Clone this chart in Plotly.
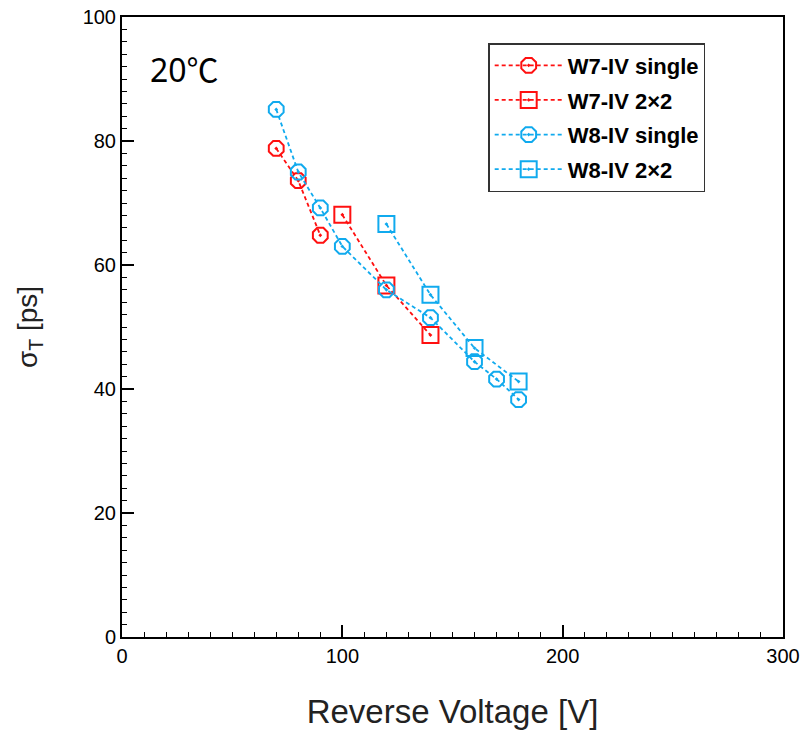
import plotly.graph_objects as go

# Data
w7_single_x = [70, 80, 90]
w7_single_y = [78.8, 73.6, 64.8]
w7_2x2_x = [100, 120, 140]
w7_2x2_y = [68.1, 56.7, 48.7]
w8_single_x = [70, 80, 90, 100, 120, 140, 160, 170, 180]
w8_single_y = [85.1, 75.0, 69.2, 63.0, 56.0, 51.5, 44.4, 41.6, 38.3]
w8_2x2_x = [120, 140, 160, 180]
w8_2x2_y = [66.6, 55.2, 46.6, 41.2]

RED = "#FF1010"
BLUE = "#10AAEE"

series = [
    ("W7-IV single", w7_single_x, w7_single_y, RED, "octagon-open-dot"),
    ("W7-IV 2×2", w7_2x2_x, w7_2x2_y, RED, "square-open-dot"),
    ("W8-IV single", w8_single_x, w8_single_y, BLUE, "octagon-open-dot"),
    ("W8-IV 2×2", w8_2x2_x, w8_2x2_y, BLUE, "square-open-dot"),
]

fig = go.Figure()
for i, (name, xs, ys, col, sym) in enumerate(series):
    fig.add_trace(go.Scatter(
        x=xs, y=ys, name=name, mode="lines+markers",
        legendgroup=str(i),
        line=dict(color=col, width=1.8, dash="4px,3px"),
        marker=dict(symbol=sym, size=16, color=col, line=dict(color=col, width=2)),
    ))

axis_common = dict(
    showline=True, linecolor="black", linewidth=2, mirror=True,
    ticks="inside", ticklen=12, tickwidth=1.5, tickcolor="black",
    showgrid=False, zeroline=False, automargin=False,
    tickfont=dict(family="Liberation Sans, Arial", size=20, color="black"),
)

fig.update_xaxes(
    range=[0, 300], dtick=100, tick0=0,
    minor=dict(dtick=10, ticks="inside", ticklen=5, tickwidth=1.2, tickcolor="black"),
    title=dict(text="Reverse Voltage [V]", font=dict(family="Liberation Sans, Arial", size=33, color="#222"), standoff=34),
    **axis_common,
)
fig.update_yaxes(
    range=[0, 100], dtick=20, tick0=0,
    minor=dict(dtick=2, ticks="inside", ticklen=5, tickwidth=1.2, tickcolor="black"),
    title=dict(text="σ<sub>T</sub> [ps]", font=dict(family="Liberation Sans, Arial", size=28, color="#222"), standoff=37),
    **axis_common,
)

fig.add_annotation(
    x=0.04, y=0.918, xref="paper", yref="paper", xanchor="left", yanchor="middle",
    text='20<span style="font-family:Noto Sans CJK SC">℃</span>', showarrow=False,
    font=dict(family="Noto Sans, Liberation Sans", size=32, color="black"),
)

fig.update_layout(
    width=803, height=734,
    margin=dict(l=122, r=20, t=17, b=97),
    paper_bgcolor="white", plot_bgcolor="white",
    showlegend=True,
    legend=dict(
        x=0.554, y=0.958, xanchor="left", yanchor="top",
        bgcolor="white", bordercolor="#333", borderwidth=1.5,
        font=dict(family="Liberation Sans, Arial", size=22, color="black", weight="bold"),
        tracegroupgap=3, itemwidth=68, entrywidth=150,
    ),
)

fig.write_html("out.html")
